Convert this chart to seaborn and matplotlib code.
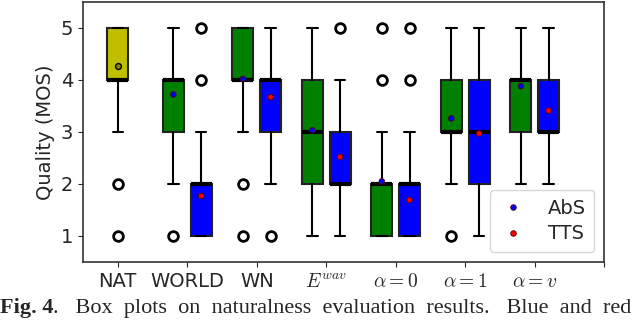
import numpy as np
import pandas as pd
import matplotlib.pyplot as plt
import seaborn as sns

# x tick labels (NAT has one box, the rest have AbS + TTS)
groups = ["NAT", "WORLD", "WN", r"$E^{wav}$", r"$\alpha=0$", r"$\alpha=1$", r"$\alpha=v$"]

# natural speech
nat_q1, nat_med, nat_q3 = 4, 4, 5
nat_lo, nat_hi = 3, 5
nat_fliers = [2, 1]
nat_mean = 4.27

# AbS boxes (WORLD .. alpha=v)
abs_q1 = [3, 4, 2, 1, 3, 3]
abs_med = [4, 4, 3, 2, 3, 4]
abs_q3 = [4, 5, 4, 2, 4, 4]
abs_lo = [2, 3, 1, 1, 2, 2]
abs_hi = [5, 5, 5, 3, 5, 5]
abs_fliers = [[1], [2, 1], [], [4, 5], [1], []]
abs_mean = [3.72, 4.02, 3.03, 2.05, 3.26, 3.88]

# TTS boxes
tts_q1 = [1, 3, 2, 1, 2, 3]
tts_med = [2, 4, 2, 2, 3, 3]
tts_q3 = [2, 4, 3, 2, 4, 4]
tts_lo = [1, 2, 1, 1, 1, 2]
tts_hi = [3, 5, 4, 3, 5, 5]
tts_fliers = [[4, 5], [1], [5], [4, 5], [], []]
tts_mean = [1.77, 3.67, 2.52, 1.69, 2.97, 3.41]


def stats(q1, med, q3, lo, hi, fl):
    return dict(q1=q1, med=med, q3=q3, whislo=lo, whishi=hi, fliers=fl)


def main():
    sns.set_style("ticks")
    plt.rcParams["mathtext.fontset"] = "cm"
    plt.rcParams["font.family"] = ["DejaVu Sans"]
    fs = 14

    fig, ax = plt.subplots(figsize=(6.4, 3.21), dpi=100)
    fig.subplots_adjust(left=0.1297, right=0.944, top=0.994, bottom=0.184)

    common = dict(
        widths=0.3, patch_artist=True, manage_ticks=False,
        medianprops=dict(color="black", linewidth=3),
        whiskerprops=dict(color="black", linewidth=1.5),
        capprops=dict(color="black", linewidth=1.5),
        flierprops=dict(marker="o", markerfacecolor="none", markeredgecolor="black",
                        markersize=7, markeredgewidth=2),
    )

    b = ax.bxp([stats(nat_q1, nat_med, nat_q3, nat_lo, nat_hi, nat_fliers)],
               positions=[0], **common)
    for p in b["boxes"]:
        p.set(facecolor="#bfbf00", edgecolor="#222222", linewidth=1.5)

    n = len(abs_q1)
    xs = np.arange(1, n + 1)
    b = ax.bxp([stats(*a) for a in zip(abs_q1, abs_med, abs_q3, abs_lo, abs_hi, abs_fliers)],
               positions=xs - 0.2, **common)
    for p in b["boxes"]:
        p.set(facecolor="green", edgecolor="#222222", linewidth=1.5)
    b = ax.bxp([stats(*a) for a in zip(tts_q1, tts_med, tts_q3, tts_lo, tts_hi, tts_fliers)],
               positions=xs + 0.2, **common)
    for p in b["boxes"]:
        p.set(facecolor="blue", edgecolor="#222222", linewidth=1.5)

    # mean markers
    ax.scatter([0], [nat_mean], s=18, color="#8a8a00", edgecolor="black", linewidth=1, zorder=5)
    means = pd.DataFrame({
        "x": np.concatenate([xs - 0.2, xs + 0.2]),
        "y": abs_mean + tts_mean,
        "sys": ["AbS"] * n + ["TTS"] * n,
    })
    sns.scatterplot(data=means, x="x", y="y", hue="sys", palette={"AbS": "blue", "TTS": "red"},
                    s=16, edgecolor="#550000", linewidth=0.6, zorder=5, ax=ax)

    ax.set_xlim(-0.5, 7)
    ax.set_ylim(0.5, 5.5)
    ax.set_xticks(range(8))
    ax.set_xticklabels(groups + [""], fontsize=fs)
    ax.set_yticks([1, 2, 3, 4, 5])
    ax.tick_params(axis="y", labelsize=fs)
    ax.set_xlabel("")
    ax.set_ylabel("Quality (MOS)", fontsize=fs)
    for s in ax.spines.values():
        s.set_color("#333333")
        s.set_linewidth(1.2)

    ax.legend(loc="lower right", fontsize=fs, title=None, markerscale=1.0,
              handlelength=1.4, handletextpad=1.1, borderpad=0.45, labelspacing=0.35)

    # caption (the figure is cropped from a paper page)
    cap = dict(family="Liberation Serif", fontsize=16)
    t1 = fig.text(0.0, 0.025, "Fig. 4", weight="bold", **cap)
    ax.annotate(".   Box  plots  on  naturalness  evaluation  results.   Blue  and  red",
                xy=(1, 0), xycoords=t1, va="bottom", ha="left",
                annotation_clip=False, **cap)

    fig.savefig("out.png", dpi=100)


if __name__ == "__main__":
    main()
